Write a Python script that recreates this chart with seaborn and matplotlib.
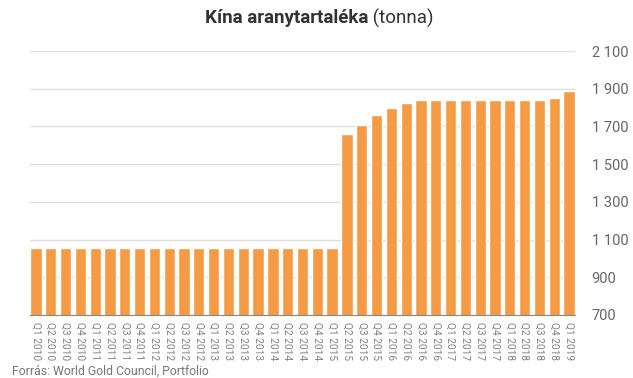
import numpy as np
import pandas as pd
import seaborn as sns
import matplotlib.pyplot as plt
from matplotlib.ticker import FuncFormatter

years = list(range(2010, 2020))
quarters = ["Q{} {}".format(q, y) for y in years for q in range(1, 5)][:37]
reserves = [1054.1] * 21 + [
    1658.1, 1708.5, 1762.3,
    1797.5, 1823.3, 1838.5, 1842.6,
    1842.6, 1842.6, 1842.6, 1842.6,
    1842.6, 1842.6, 1842.6, 1852.5,
    1885.5,
]
yticks = [700, 900, 1100, 1300, 1500, 1700, 1900, 2100]

df = pd.DataFrame({"quarter": quarters, "tonna": reserves})

sns.set_style("white")
plt.rcParams["font.family"] = ["Roboto", "DejaVu Sans"]

fig = plt.figure(figsize=(6.33, 3.78), dpi=100)
ax = fig.add_axes([30 / 633, 1 - 315 / 378, 545 / 633, 264 / 378])

sns.barplot(data=df, x="quarter", y="tonna", color="#f59b45", width=0.76,
            saturation=1, ax=ax, zorder=2)

ax.set_ylim(700, 2100)
ax.set_xlim(-0.4, len(quarters) - 0.6)
ax.set_yticks(yticks)
ax.yaxis.set_major_formatter(FuncFormatter(lambda v, _: "{:,.0f}".format(v).replace(",", " ")))
ax.yaxis.tick_right()
ax.grid(axis="y", color="#dddddd", linewidth=1, zorder=0)
ax.set_axisbelow(True)
ax.tick_params(axis="y", length=0, pad=12, labelsize=10.5, labelcolor="#666666")
ax.tick_params(axis="x", length=0, pad=5, labelsize=7.3, labelcolor="#80808a")
plt.setp(ax.get_xticklabels(), rotation=-90, va="top", ha="center")
ax.set_xlabel("")
ax.set_ylabel("")

sns.despine(ax=ax, left=True, right=True, top=True)
ax.spines["bottom"].set_color("#888888")

# title: bold part + regular part, centred together
t1 = fig.text(0, 1 - 18 / 378, "Kína aranytartaléka", fontsize=13.5,
              fontweight="bold", color="#333333", va="center")
t2 = fig.text(0, 1 - 18 / 378, " (tonna)", fontsize=13.5, color="#333333", va="center")
r = fig.canvas.get_renderer()
w1 = t1.get_window_extent(r).width
w2 = t2.get_window_extent(r).width
x0 = (633 - w1 - w2) / 2 + 3
t1.set_x(x0 / 633)
t2.set_x((x0 + w1) / 633)

fig.text(12 / 633, 1 - 371 / 378, "Forrás: World Gold Council, Portfolio",
         fontsize=8.8, color="#777777", va="center")

fig.savefig("out.png", dpi=100)
